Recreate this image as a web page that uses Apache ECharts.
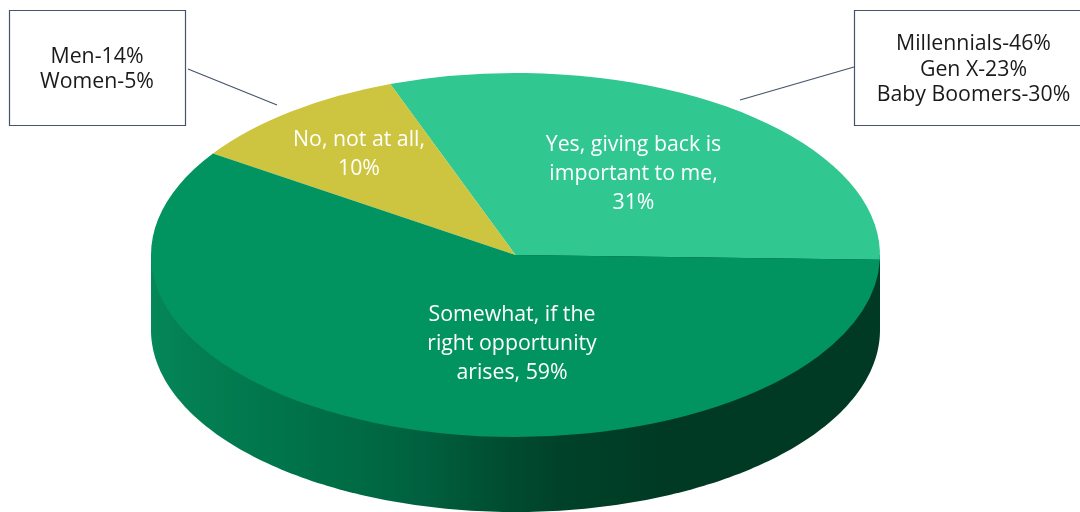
<!DOCTYPE html>
<html>
<head>
<meta charset="utf-8">
<style>
  html, body { margin: 0; padding: 0; background: #fff; }
  #chart { width: 1080px; height: 512px; }
</style>
<script src="https://cdn.jsdelivr.net/npm/echarts@6/dist/echarts.min.js"></script>
</head>
<body>
<div id="chart"></div>
<script>
// Survey answers, in percent, running counter-clockwise round the disc
const answers = ['Yes, giving back is\nimportant to me,\n', 'No, not at all,\n', 'Somewhat, if the\nright opportunity\narises, '];
const shares = [31, 10, 59];
const sliceColors = ['#30c791', '#cdc53f', '#029460'];
const labelSpots = [[633.5, 174], [359, 154], [512, 344]];

// Call-out breakdowns
const yesBreakdown = ['Millennials-46%', 'Gen X-23%', 'Baby Boomers-30%'];
const noBreakdown = ['Men-14%', 'Women-5%'];

// Disc geometry: a flattened circle with a raised rim
const cx = 515.5, cy = 255, rx = 364.5, ry = 182, rimDepth = 75;
const startDeg = -1.5;
const flatten = ry / rx;
const rad = d => d * Math.PI / 180;

const total = shares.reduce((a, b) => a + b, 0);
const sliceStart = i => startDeg + shares.slice(0, i).reduce((a, b) => a + b, 0) / total * 360;

const font = '"Open Sans", sans-serif';
const labelSize = 21.3;
const calloutStroke = '#44546a';

function renderSlice(params, api) {
  const i = params.dataIndex;
  const share = api.value(0);
  const a0 = sliceStart(i);
  const a1 = a0 + share / total * 360;
  return {
    type: 'group',
    children: [
      {
        type: 'sector',
        x: cx, y: cy, scaleY: flatten,
        shape: { cx: 0, cy: 0, r0: 0, r: rx, startAngle: -rad(a0), endAngle: -rad(a1), clockwise: false },
        style: { fill: sliceColors[i] },
        silent: true
      },
      {
        type: 'text',
        x: labelSpots[i][0], y: labelSpots[i][1],
        style: {
          text: answers[i] + share + '%',
          fill: '#ffffff',
          font: labelSize + 'px ' + font,
          lineHeight: 29,
          align: 'center',
          verticalAlign: 'middle'
        },
        silent: true,
        z2: 10
      }
    ]
  };
}

// The visible rim is the front half of the disc pushed down by rimDepth;
// its top edge runs along the diameter so it sits fully behind the slices
function renderRim() {
  const pts = [[cx - rx, cy]];
  for (let d = 180; d <= 360; d += 1) {
    pts.push([cx + rx * Math.cos(rad(d)), cy - ry * Math.sin(rad(d)) + rimDepth]);
  }
  pts.push([cx + rx, cy]);
  return {
    type: 'polygon',
    shape: { points: pts },
    style: {
      fill: new echarts.graphic.LinearGradient(0, 0, 1, 0, [
        { offset: 0, color: '#05875a' },
        { offset: 0.06, color: '#037f52' },
        { offset: 0.2, color: '#007249' },
        { offset: 0.29, color: '#006a44' },
        { offset: 0.38, color: '#005f3e' },
        { offset: 0.47, color: '#004f32' },
        { offset: 0.56, color: '#004229' },
        { offset: 0.7, color: '#003a25' },
        { offset: 1, color: '#003a25' }
      ])
    },
    silent: true
  };
}

function calloutBox(x, y, w, h, lines, leader) {
  return [
    {
      type: 'rect',
      shape: { x: x + 0.5, y: y + 0.5, width: w, height: h },
      style: { fill: '#ffffff', stroke: calloutStroke, lineWidth: 1.2 }
    },
    {
      type: 'text',
      x: x + w / 2 - (w > 200 ? 0.5 : 0), y: y + h / 2 + 2,
      style: {
        text: lines.join('\n'),
        fill: '#1a1a1a',
        font: labelSize + 'px ' + font,
        lineHeight: 25.5,
        align: 'center',
        verticalAlign: 'middle'
      }
    },
    {
      type: 'line',
      shape: { x1: leader[0], y1: leader[1], x2: leader[2], y2: leader[3] },
      style: { stroke: calloutStroke, lineWidth: 1.2 }
    }
  ];
}

const chart = echarts.init(document.getElementById('chart'), null, { renderer: 'canvas' });
chart.setOption({
  animation: false,
  backgroundColor: '#ffffff',
  graphic: { elements: [
    ...calloutBox(9, 10, 176, 115, noBreakdown, [188, 69, 277, 105]),
    ...calloutBox(854, 10, 240, 115, yesBreakdown, [854, 67, 740, 100])
  ] },
  series: [
    { type: 'custom', coordinateSystem: 'none', z: 1, silent: true, data: [[1]], renderItem: renderRim },
    { type: 'custom', coordinateSystem: 'none', z: 2, silent: true, data: shares.map(v => [v]), renderItem: renderSlice }
  ]
});
</script>
</body>
</html>
